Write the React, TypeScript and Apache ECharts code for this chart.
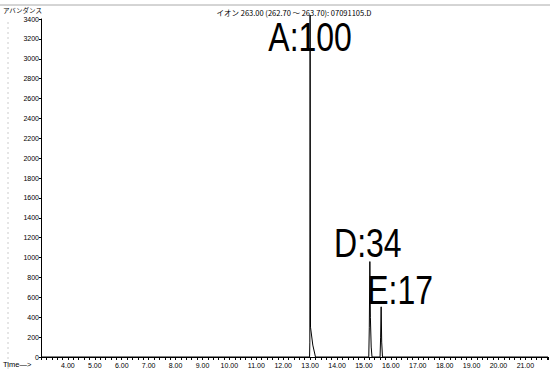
import React, { useEffect, useRef } from "react";
import * as echarts from "echarts";

// Chromatogram trace (retention time in min, abundance)
const traceTimes = [3.0, 12.98, 12.99, 13.0, 13.015, 13.1, 13.2, 15.18, 15.2, 15.22, 15.24, 15.27, 15.3, 15.6, 15.62, 15.64, 15.66, 15.69, 21.84];
const traceValues = [0, 0, 150, 3440, 300, 120, 0, 0, 300, 960, 400, 100, 0, 0, 200, 505, 150, 0, 0];

// Peak annotations
const peakNames = ["A:100", "D:34", "E:17"];
const peakTimes = [13.0, 15.22, 15.64];
const peakHeights = [3440, 960, 505];

const title = "イオン 263.00 (262.70 ～ 263.70): 07091105.D";
const yAxisTitle = "アバンダンス";
const xAxisTitle = "Time—>";

// label offsets from peak apex, in px (style only)
const labelOffsets = [[0, 22], [-2, -19], [19, -17]];

export default function App() {
  const ref = useRef<HTMLDivElement>(null);
  useEffect(() => {
    if (!ref.current) return;
    const chart = echarts.init(ref.current, null, { renderer: "svg" });
    const sans = "'Liberation Sans', Arial, sans-serif";
    const staticGraphics: any[] = [
      { type: "line", shape: { x1: 0, y1: 5, x2: 550, y2: 5 }, style: { stroke: "#aaa", lineWidth: 1 } },
      { type: "line", shape: { x1: 8, y1: 22, x2: 8, y2: 372 }, style: { stroke: "#ccc", lineWidth: 1, lineDash: [2, 3] } },
      { type: "text", x: 294, y: 12, style: { text: title, fill: "#000", font: "7.5px 'Noto Sans CJK JP', 'Liberation Sans', sans-serif", textAlign: "center", textVerticalAlign: "middle" } },
      { type: "text", x: 3, y: 10, style: { text: yAxisTitle, fill: "#000", font: "6.5px 'Noto Sans CJK JP', sans-serif", textAlign: "left", textVerticalAlign: "middle" } },
      { type: "text", x: 3, y: 364, style: { text: xAxisTitle, fill: "#000", font: "7.5px 'Liberation Sans', sans-serif", textAlign: "left", textVerticalAlign: "middle" } },
    ];
    chart.setOption({
      animation: false,
      backgroundColor: "#fff",
      grid: { left: 41, right: 2, top: 19, bottom: 19 },
      xAxis: {
        type: "value",
        min: 3,
        max: 21.84,
        interval: 1,
        axisLine: { show: true, onZero: false, lineStyle: { color: "#000", width: 1 } },
        axisTick: { show: true, length: 3, lineStyle: { color: "#000" } },
        minorTick: { show: true, splitNumber: 5, length: 3, lineStyle: { color: "#000" } },
        splitLine: { show: false },
        axisLabel: {
          color: "#000",
          fontSize: 7,
          fontFamily: sans,
          margin: 5,
          showMinLabel: false,
          showMaxLabel: false,
          formatter: (v: number) => (v >= 4 && v <= 21 && Math.abs(v - Math.round(v)) < 1e-6 ? v.toFixed(2) : ""),
        },
      },
      yAxis: {
        type: "value",
        min: 0,
        max: 3400,
        interval: 200,
        axisLine: { show: true, lineStyle: { color: "#000", width: 1 } },
        axisTick: { show: true, length: 2, lineStyle: { color: "#000" } },
        splitLine: { show: false },
        axisLabel: { color: "#000", fontSize: 7, fontFamily: sans, margin: 2, formatter: (v: number) => String(v) },
      },
      graphic: staticGraphics,
      series: [
        {
          type: "line",
          data: traceTimes.map((t, i) => [t, traceValues[i]]),
          showSymbol: false,
          symbol: "none",
          clip: false,
          lineStyle: { color: "#000", width: 1 },
        },
      ],
    });
    const peakLabels = peakNames.map((name, i) => {
      const [px, py] = chart.convertToPixel({ gridIndex: 0 }, [peakTimes[i], peakHeights[i]]) as number[];
      return {
        type: "text",
        x: px + labelOffsets[i][0],
        y: py + labelOffsets[i][1],
        scaleX: 0.78,
        scaleY: 1.0,
        style: {
          text: name,
          fill: "#000",
          font: "41px 'Liberation Sans', Arial, sans-serif",
          textAlign: "center",
          textVerticalAlign: "middle",
        },
      };
    });
    chart.setOption({ graphic: [...staticGraphics, ...peakLabels] }, { replaceMerge: ["graphic"] });
    return () => chart.dispose();
  }, []);
  return <div ref={ref} style={{ width: 550, height: 376, position: "absolute", left: 0, top: 0 }} />;
}
